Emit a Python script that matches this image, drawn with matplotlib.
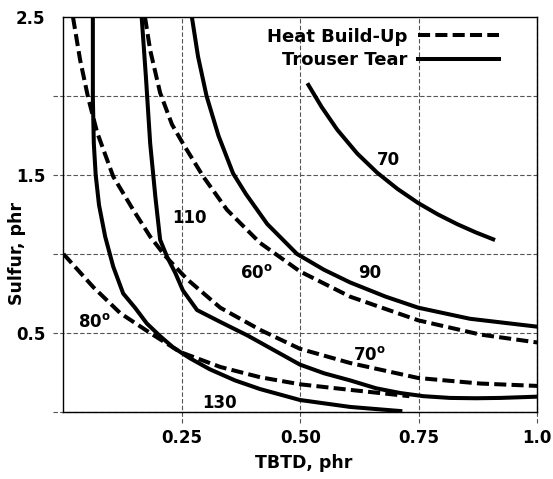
import numpy as np
from matplotlib import pyplot as plt

plt.rcParams['font.family'] = ['DejaVu Sans']
plt.rcParams['font.weight'] = 'bold'
plt.rcParams['mathtext.fontset'] = 'dejavusans'

# Trouser tear curves (solid), x = TBTD phr, y = sulfur phr
tear_70_x = [0.517, 0.545, 0.578, 0.620, 0.662, 0.705, 0.749, 0.790, 0.831, 0.870, 0.907]
tear_70_y = [2.07, 1.93, 1.786, 1.636, 1.515, 1.412, 1.322, 1.251, 1.189, 1.137, 1.093]

tear_90_x = [0.271, 0.284, 0.302, 0.327, 0.358, 0.385, 0.430, 0.493, 0.550, 0.605,
             0.680, 0.749, 0.858, 1.0]
tear_90_y = [2.50, 2.25, 2.00, 1.75, 1.51, 1.38, 1.19, 1.00, 0.90, 0.82,
             0.73, 0.66, 0.59, 0.54]

tear_110_x = [0.165, 0.174, 0.183, 0.194, 0.204, 0.219, 0.236, 0.252, 0.282, 0.331,
              0.388, 0.442, 0.499, 0.550, 0.605, 0.660, 0.711, 0.760, 0.816, 0.870,
              0.922, 1.0]
tear_110_y = [2.50, 2.12, 1.70, 1.36, 1.09, 0.98, 0.88, 0.77, 0.645, 0.57,
              0.485, 0.395, 0.30, 0.245, 0.20, 0.15, 0.12, 0.10, 0.089, 0.087,
              0.089, 0.097]

tear_130_x = [0.062, 0.062, 0.062, 0.064, 0.068, 0.075, 0.088, 0.105, 0.126, 0.151,
              0.176, 0.204, 0.231, 0.267, 0.309, 0.362, 0.415, 0.499, 0.605, 0.711]
tear_130_y = [2.50, 2.23, 1.99, 1.70, 1.50, 1.31, 1.11, 0.92, 0.75, 0.66,
              0.56, 0.48, 0.41, 0.34, 0.27, 0.20, 0.145, 0.076, 0.032, 0.006]

# Heat build-up curves (dashed)
hbu_60_x = [0.172, 0.183, 0.204, 0.229, 0.252, 0.295, 0.345, 0.415, 0.499, 0.605,
            0.749, 0.880, 1.0]
hbu_60_y = [2.50, 2.29, 2.02, 1.82, 1.70, 1.49, 1.28, 1.07, 0.89, 0.73,
            0.58, 0.49, 0.44]

hbu_70_x = [0.020, 0.035, 0.052, 0.071, 0.105, 0.147, 0.183, 0.214, 0.261, 0.331,
            0.415, 0.499, 0.605, 0.749, 0.880, 1.0]
hbu_70_y = [2.50, 2.23, 1.99, 1.77, 1.49, 1.28, 1.11, 0.99, 0.84, 0.66,
            0.52, 0.40, 0.31, 0.215, 0.18, 0.165]

hbu_80_x = [0.0, 0.063, 0.120, 0.183, 0.246, 0.331, 0.415, 0.500, 0.605, 0.730]
hbu_80_y = [1.00, 0.79, 0.625, 0.50, 0.38, 0.285, 0.22, 0.175, 0.14, 0.10]

x_ticks = [0.25, 0.50, 0.75, 1.0]
x_tick_labels = ['0.25', '0.50', '0.75', '1.0']
y_ticks = [0.5, 1.5, 2.5]
y_tick_labels = ['0.5', '1.5', '2.5']
x_grid = [0.25, 0.50, 0.75, 1.0]
y_grid = [0.0, 0.5, 1.0, 1.5, 2.0]

fig = plt.figure(figsize=(5.53, 4.79), dpi=100)
ax = fig.add_axes([0.1148, 0.1399, 0.8567, 0.8246])
ax.set_xlim(0, 1.0)
ax.set_ylim(0, 2.5)

grid_style = dict(color='#555555', lw=0.8, ls=(0, (4, 2)), zorder=1, clip_on=False)
for gx in x_grid:
    ax.axvline(gx, ymin=-0.028, ymax=1, **grid_style)
for gy in y_grid:
    ax.axhline(gy, xmin=-0.022, xmax=1, **grid_style)

lw = 2.9
dash = (0, (3.0, 1.3))
for xs, ys in [(tear_70_x, tear_70_y), (tear_90_x, tear_90_y),
               (tear_110_x, tear_110_y), (tear_130_x, tear_130_y)]:
    ax.plot(xs, ys, color='black', lw=lw, zorder=3)
for xs, ys in [(hbu_60_x, hbu_60_y), (hbu_70_x, hbu_70_y), (hbu_80_x, hbu_80_y)]:
    ax.plot(xs, ys, color='black', lw=lw, ls=dash, zorder=3)

# legend handles
h1, = ax.plot([], [], color='black', lw=lw, ls=dash, label='Heat Build-Up')
h2, = ax.plot([], [], color='black', lw=lw, label='Trouser Tear')
ax.legend(handles=[h1, h2], loc='upper right', bbox_to_anchor=(0.92, 0.973),
          frameon=False, markerfirst=False, borderpad=0, borderaxespad=0,
          handlelength=4.5, handletextpad=0.6, labelspacing=0.3,
          prop={'size': 13, 'weight': 'bold'})

curve_labels = [('70', 0.685, 1.563), ('110', 0.266, 1.196),
                (r'60$^{\mathbf{o}}$', 0.408, 0.848), ('90', 0.647, 0.848),
                (r'80$^{\mathbf{o}}$', 0.065, 0.538), (r'70$^{\mathbf{o}}$', 0.645, 0.329),
                ('130', 0.33, 0.025)]
for txt, lx, ly in curve_labels:
    ax.text(lx, ly, txt, ha='center', va='baseline', fontsize=12,
            fontweight='bold', zorder=4)

ax.set_xticks(x_ticks)
ax.set_xticklabels(x_tick_labels)
ax.set_yticks(y_ticks)
ax.set_yticklabels(y_tick_labels)
ax.tick_params(axis='both', length=0, labelsize=12)
ax.tick_params(axis='x', pad=12)
ax.tick_params(axis='y', pad=13)
for lab in ax.get_xticklabels() + ax.get_yticklabels():
    lab.set_fontweight('bold')

for sp in ax.spines.values():
    sp.set_linewidth(1.0)
    sp.set_color('black')

ax.set_xlabel('TBTD, phr', fontsize=12.5, fontweight='bold')
ax.set_ylabel('Sulfur, phr', fontsize=12.5, fontweight='bold')
ax.xaxis.set_label_coords(0.506, -0.106)
ax.yaxis.set_label_coords(-0.079, 0.40)

fig.savefig('out.png', dpi=100)
